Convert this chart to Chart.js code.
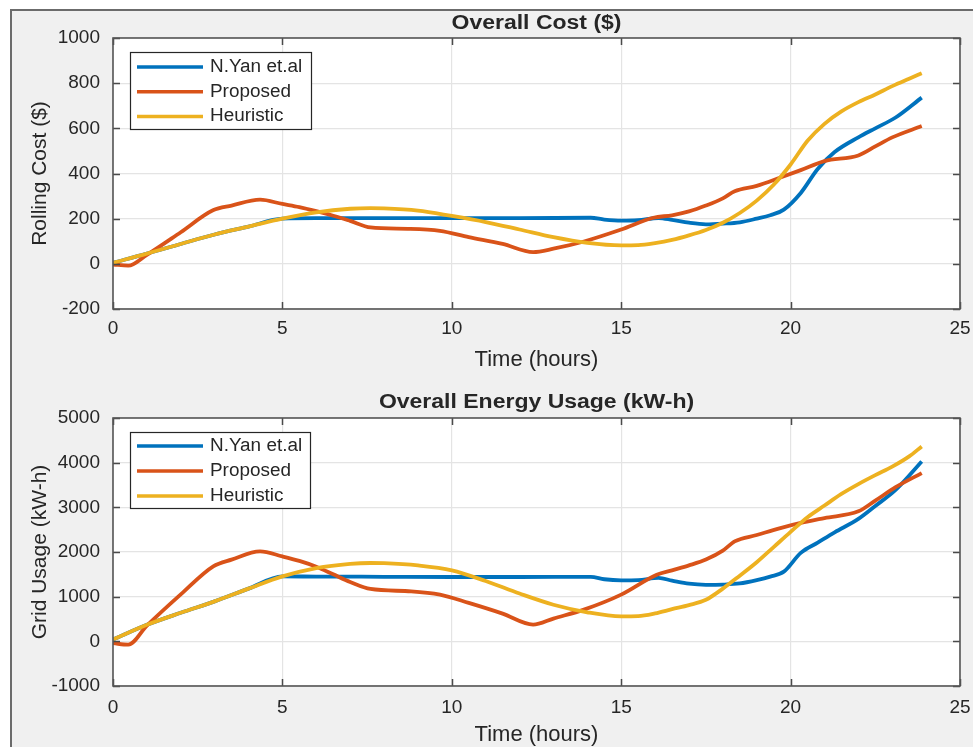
<!DOCTYPE html>
<html><head><meta charset="utf-8">
<script src="https://cdn.jsdelivr.net/npm/chart.js@4.4.0/dist/chart.umd.min.js"></script>
<style>
html,body{margin:0;padding:0;background:#fff;overflow:hidden;width:973px;height:747px;}
#frame{position:absolute;left:10px;top:9px;width:963px;height:738px;background:#f0f0f0;border-left:2px solid #6b6b6b;border-top:2px solid #6b6b6b;box-sizing:border-box;}
canvas{position:absolute;left:0;}
#c1{top:0}
#c2{top:380px}
</style></head><body>
<div id="frame"></div>
<canvas id="c1" width="973" height="380"></canvas>
<canvas id="c2" width="973" height="375"></canvas>
<script>
// ---------- data ----------
const seriesNames = ['N.Yan et.al', 'Proposed', 'Heuristic'];
const xTicks = [0, 5, 10, 15, 20, 25];
const costTicks = [-200, 0, 200, 400, 600, 800, 1000];
const energyTicks = [-1000, 0, 1000, 2000, 3000, 4000, 5000];

// Overall Cost ($)
const costYanT  = [0,1,2,3,4,5,6,8,10,12,14.1,14.5,15,15.5,16.1,16.5,17,17.5,18,18.5,19,19.4,19.8,20.3,20.8,21.3,22,22.5,23.1,23.87];
const costYan   = [5,45,88,130,165,200,202,202,202,202,204,196,191,193,203,195,182,175,178,184,200,215,240,314,420,495,560,600,648,736];
const costPropT = [0,0.45,1,2,2.95,3.5,4.34,5,5.5,6,6.5,7,7.6,8.7,9.65,10.5,11.5,12.4,13,13.9,15,15.95,16.5,17,17.5,18,18.35,19,19.7,20.3,21,22,22.5,23,23.87];
const costProp  = [-3,-8,40,140,237,258,284,265,251,233,213,190,161,155,146,118,88,52,67,99,152,204,215,232,258,290,321,345,382,415,455,480,520,560,610];
const costHeurT = [0,1,2,3,4,5,6,7,7.6,8,9,10,11,12,13,14,15,15.5,16,16.5,17,17.5,18,18.5,19,19.5,20,20.5,21,21.5,22,22.5,23,23.5,23.87];
const costHeur  = [5,45,88,130,165,200,228,244,247,246,236,212,185,152,118,93,82,83,92,106,126,150,182,225,280,350,440,545,620,675,716,750,787,820,844];

// Overall Energy Usage (kW-h)
const enYanT  = [0,1,2,3,4,5,6,8,10,12,14.1,14.5,15,15.5,16.1,16.5,17,17.5,18,18.5,19,19.4,19.8,20.3,20.8,21.3,22,22.5,23.1,23.87];
const enYan   = [40,370,640,895,1180,1454,1450,1445,1440,1440,1445,1390,1365,1370,1420,1360,1290,1265,1270,1295,1370,1450,1560,1980,2210,2440,2740,3030,3390,4027];
const enPropT = [0,0.45,1,2,2.96,3.5,4.34,5,5.5,6,6.5,7,7.6,8.8,9.65,10.5,11.5,12.4,13,13.9,15,16.05,16.5,17,17.5,18,18.35,19,19.7,20.3,21,22,22.5,23.1,23.87];
const enProp  = [-40,-75,350,1050,1680,1830,2013,1900,1800,1670,1500,1330,1172,1120,1045,860,620,374,510,709,1045,1490,1590,1700,1830,2030,2237,2380,2536,2650,2760,2910,3150,3450,3767];
const enHeurT = [0,1,2,3,4,5,6,7,7.6,8,9,10,11,12,13,14,15,15.5,16,16.5,17,17.5,18,18.5,19,19.5,20,20.5,21,21.5,22,22.5,23,23.5,23.87];
const enHeur  = [40,370,640,895,1180,1454,1640,1735,1754,1750,1700,1590,1350,1070,820,650,560,565,625,720,810,930,1180,1470,1770,2110,2450,2780,3040,3300,3520,3720,3910,4140,4362];

const colors = ['#0072BD', '#D95319', '#EDB120'];
const FONT = "'Liberation Sans', Arial, Helvetica, sans-serif";
const TXT = '#262626';

function pts(t, v) { return t.map((x, i) => ({x: x, y: v[i]})); }

const matlabPlugin = {
  id: 'matlab',
  beforeDraw(chart) {
    const {ctx, chartArea: a} = chart;
    ctx.save();
    ctx.fillStyle = '#ffffff';
    ctx.fillRect(a.left, a.top, a.right - a.left, a.bottom - a.top);
    ctx.restore();
  },
  afterDraw(chart, args, o) {
    const {ctx, chartArea: a} = chart;
    const xs = chart.scales.x, ys = chart.scales.y;
    ctx.save();
    // inner tick marks
    ctx.strokeStyle = '#4a4a4a';
    ctx.lineWidth = 1.5;
    const tl = 7;
    ctx.beginPath();
    xs.ticks.forEach(t => {
      const p = Math.round(xs.getPixelForValue(t.value)) + 0.5;
      ctx.moveTo(p, a.bottom); ctx.lineTo(p, a.bottom - tl);
      ctx.moveTo(p, a.top); ctx.lineTo(p, a.top + tl);
    });
    ys.ticks.forEach(t => {
      const p = Math.round(ys.getPixelForValue(t.value)) + 0.5;
      ctx.moveTo(a.left, p); ctx.lineTo(a.left + tl, p);
      ctx.moveTo(a.right, p); ctx.lineTo(a.right - tl, p);
    });
    ctx.stroke();
    // box
    ctx.strokeStyle = '#555555';
    ctx.lineWidth = 1.6;
    ctx.strokeRect(a.left, a.top, a.right - a.left, a.bottom - a.top);
    // title
    ctx.fillStyle = TXT;
    ctx.font = 'bold 20px ' + FONT;
    ctx.textAlign = 'center';
    ctx.textBaseline = 'middle';
    ctx.save();
    const cx = (a.left + a.right) / 2;
    ctx.translate(cx, o.titleY);
    ctx.scale(1.15, 1);
    ctx.fillText(o.title, 0, 0);
    ctx.restore();
    // legend
    const L = o.legend;
    ctx.fillStyle = '#ffffff';
    ctx.fillRect(L.left, L.top, L.right - L.left, L.bottom - L.top);
    ctx.strokeStyle = '#262626';
    ctx.lineWidth = 1.2;
    ctx.strokeRect(L.left + 0.5, L.top + 0.5, L.right - L.left, L.bottom - L.top);
    ctx.font = '18px ' + FONT;
    ctx.textAlign = 'left';
    ctx.textBaseline = 'middle';
    seriesNames.forEach((name, i) => {
      const y = L.top + L.row0 + i * L.step;
      ctx.strokeStyle = colors[i];
      ctx.lineWidth = 3.5;
      ctx.beginPath(); ctx.moveTo(L.left + 7, y); ctx.lineTo(L.left + 73, y); ctx.stroke();
      ctx.fillStyle = TXT;
      ctx.save();
      ctx.translate(L.left + 80, y);
      ctx.scale(1.05, 1);
      ctx.fillText(name, 0, 0);
      ctx.restore();
    });
    ctx.restore();
  }
};

function makeChart(id, data, yTicks, title, yTitle, opts) {
  const ds = data.map((d, i) => ({
    label: seriesNames[i],
    data: d,
    borderColor: colors[i],
    backgroundColor: colors[i],
    borderWidth: 3.8,
    pointRadius: 0,
    fill: false,
    cubicInterpolationMode: 'monotone',
    order: 3 - i
  }));
  return new Chart(document.getElementById(id), {
    type: 'line',
    data: {datasets: ds},
    plugins: [matlabPlugin],
    options: {
      responsive: false,
      animation: false,
      events: [],
      layout: {padding: {left: 0, right: 13, top: 38, bottom: 0}},
      plugins: {
        legend: {display: false},
        tooltip: {enabled: false},
        title: {display: false},
        matlab: {title: title, titleY: opts.titleY, legend: opts.legend}
      },
      scales: {
        x: {
          type: 'linear', min: xTicks[0], max: xTicks[xTicks.length - 1],
          afterBuildTicks: s => { s.ticks = xTicks.map(v => ({value: v})); },
          afterFit: s => { s.height = opts.xH; s.paddingLeft = 0; s.paddingRight = 0; },
          grid: {color: '#e4e4e4', lineWidth: 1.2, drawTicks: false},
          border: {display: false},
          ticks: {color: TXT, font: {family: FONT, size: 19}, padding: opts.xPad, maxRotation: 0, callback: v => String(v)},
          title: {display: true, text: 'Time (hours)', color: TXT, font: {family: FONT, size: 22}, padding: {top: 0, bottom: 7}}
        },
        y: {
          type: 'linear', min: yTicks[0], max: yTicks[yTicks.length - 1],
          afterBuildTicks: s => { s.ticks = yTicks.map(v => ({value: v})); },
          afterFit: s => { s.width = 113; s.paddingTop = 0; s.paddingBottom = 0; },
          grid: {color: '#e4e4e4', lineWidth: 1.2, drawTicks: false},
          border: {display: false},
          ticks: {color: TXT, font: {family: FONT, size: 19}, padding: 13, callback: v => String(v)},
          title: {display: true, text: yTitle, color: TXT, font: {family: FONT, size: 21}, padding: {top: 28, bottom: 0}}
        }
      }
    }
  });
}

makeChart('c1',
  [pts(costYanT, costYan), pts(costPropT, costProp), pts(costHeurT, costHeur)],
  costTicks, 'Overall Cost ($)', 'Rolling Cost ($)',
  {titleY: 23, xH: 71, xPad: 8, legend: {left: 130, top: 52, right: 311, bottom: 129, row0: 15, step: 24.7}});

makeChart('c2',
  [pts(enYanT, enYan), pts(enPropT, enProp), pts(enHeurT, enHeur)],
  energyTicks, 'Overall Energy Usage (kW-h)', 'Grid Usage (kW-h)',
  {titleY: 22, xH: 69, xPad: 10, legend: {left: 130, top: 52, right: 310, bottom: 128, row0: 14, step: 25}});
</script></body></html>
